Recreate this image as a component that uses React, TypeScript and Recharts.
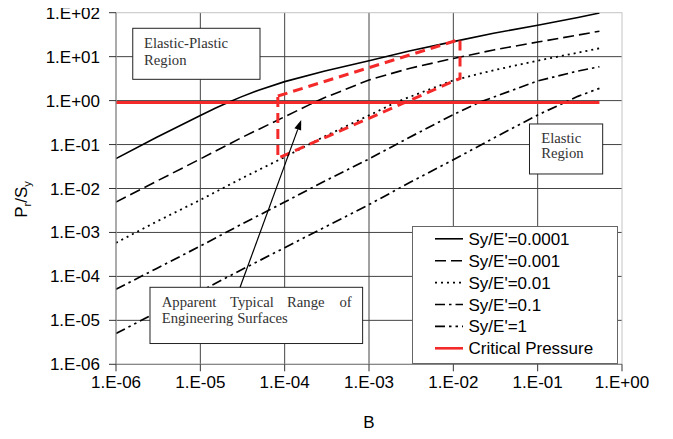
import React from 'react';
import { LineChart, Line, XAxis, YAxis, CartesianGrid, ReferenceArea, ReferenceLine, Legend } from 'recharts';

// ---------------- data ----------------
const X_TICKS = [1e-6, 1e-5, 1e-4, 1e-3, 1e-2, 1e-1, 1];
const Y_TICKS = [1e-6, 1e-5, 1e-4, 1e-3, 1e-2, 1e-1, 1, 10, 100];
const X_GRID = [1e-5, 1e-4, 1e-3, 1e-2, 1e-1];
const Y_GRID = [1e-5, 1e-4, 1e-3, 1e-2, 1e-1, 1, 10];

// Sy/E' = 0.0001
const B_A = [1e-6, 3e-6, 1e-5, 1.5e-5, 2e-5, 3e-5, 5e-5, 1e-4, 3e-4, 1e-3, 3e-3, 1e-2, 3e-2, 1e-1, 3e-1, 0.54];
const P_A = [0.048, 0.145, 0.46, 0.67, 0.86, 1.2, 1.75, 2.7, 4.7, 8.1, 13.5, 22, 34, 52, 78, 98];
// Sy/E' = 0.001
const B_B = [1e-6, 3e-6, 1e-5, 3e-5, 1e-4, 2e-4, 3e-4, 1e-3, 3e-3, 1e-2, 3e-2, 1e-1, 3e-1, 0.54];
const P_B = [0.0049, 0.0145, 0.047, 0.14, 0.43, 0.82, 1.17, 2.95, 5.4, 9.1, 14.2, 21.5, 31, 38];
// Sy/E' = 0.01
const B_C = [1e-6, 3e-6, 1e-5, 3e-5, 1e-4, 3e-4, 1e-3, 2e-3, 3e-3, 1e-2, 3e-2, 1e-1, 3e-1, 0.54];
const P_C = [5.8e-4, 1.75e-3, 5.5e-3, 0.0165, 0.052, 0.155, 0.46, 0.88, 1.2, 2.9, 4.9, 8.1, 12.3, 15.5];
// Sy/E' = 0.1
const B_D = [1e-6, 3e-6, 1e-5, 3e-5, 1e-4, 3e-4, 1e-3, 3e-3, 1e-2, 2e-2, 3e-2, 1e-1, 3e-1, 0.54];
const P_D = [5.1e-5, 1.5e-4, 4.9e-4, 1.5e-3, 4.9e-3, 0.0148, 0.047, 0.145, 0.48, 0.9, 1.2, 2.8, 4.7, 5.9];
// Sy/E' = 1
const B_E = [1e-6, 3e-6, 1e-5, 3e-5, 1e-4, 3e-4, 1e-3, 3e-3, 1e-2, 3e-2, 1e-1, 3e-1, 0.54];
const P_E = [5e-6, 1.5e-5, 4.6e-5, 1.38e-4, 4.5e-4, 1.32e-3, 4.3e-3, 0.0135, 0.045, 0.14, 0.47, 1.25, 1.9];

// Critical pressure
const CRIT_B = [1e-6, 0.54];
const CRIT_P = [0.9, 0.9];

// Apparent typical range (red dashed outline)
const RANGE_B = [8.3e-5, 0.012, 0.012, 8.3e-5, 8.3e-5];
const RANGE_P = [1.27, 24.8, 3.2, 0.049, 1.27];

const SERIES_LABELS = ["Sy/E'=0.0001", "Sy/E'=0.001", "Sy/E'=0.01", "Sy/E'=0.1", "Sy/E'=1", 'Critical Pressure'];

// ---------------- helpers ----------------
const zip = (bs: number[], ps: number[]) => bs.map((b, i) => ({ x: b, y: ps[i] }));

const fmtExp = (v: number) => {
  const e = Math.round(Math.log10(v));
  return '1.E' + (e < 0 ? '-' : '+') + String(Math.abs(e)).padStart(2, '0');
};

const SANS = "'Liberation Sans', Arial, sans-serif";
const SERIF = "'Liberation Serif', 'Times New Roman', serif";
const RED = '#f42a2a';
const FS = 17;

const SERIES = [
  { label: SERIES_LABELS[0], data: zip(B_A, P_A), dash: undefined as string | undefined, w: 1.6, color: '#000' },
  { label: SERIES_LABELS[1], data: zip(B_B, P_B), dash: '11 5', w: 1.6, color: '#000' },
  { label: SERIES_LABELS[2], data: zip(B_C, P_C), dash: '2 4', w: 1.8, color: '#000' },
  { label: SERIES_LABELS[3], data: zip(B_D, P_D), dash: '10 4 2.5 4', w: 1.7, color: '#000' },
  { label: SERIES_LABELS[4], data: zip(B_E, P_E), dash: '10 4 2.5 4 2.5 4', w: 1.7, color: '#000' },
];

type TextLine = { text: string; dx: number; dy: number; anchor?: 'start' | 'end' | 'middle' };

const makeBoxShape = (lines: TextLine[]) => (p: any) => (
  <g>
    <rect x={p.x} y={p.y} width={p.width} height={p.height} fill="#fff" stroke="#222" strokeWidth={1} />
    {lines.map((l, i) => (
      <text key={i} x={p.x + l.dx} y={p.y + l.dy} textAnchor={l.anchor ?? 'start'}
        fontFamily={SERIF} fontSize={14.7} fill="#333">{l.text}</text>
    ))}
  </g>
);

const EP_SHAPE = makeBoxShape([
  { text: 'Elastic-Plastic', dx: 11.3, dy: 19.8 },
  { text: 'Region', dx: 11.3, dy: 36.6 },
]);
const EL_SHAPE = makeBoxShape([
  { text: 'Elastic', dx: 11.7, dy: 18.7 },
  { text: 'Region', dx: 11.7, dy: 34.4 },
]);
const AP_SHAPE = makeBoxShape([
  { text: 'Apparent', dx: 11.7, dy: 19.4 },
  { text: 'Typical', dx: 80, dy: 19.4 },
  { text: 'Range', dx: 137, dy: 19.4 },
  { text: 'of', dx: 201.7, dy: 19.4, anchor: 'end' },
  { text: 'Engineering Surfaces', dx: 11.7, dy: 35.6 },
]);

const BorderShape = (p: any) => (
  <rect x={p.x} y={p.y} width={p.width} height={p.height} fill="none" stroke="#c4c4c4" strokeWidth={1} />
);

const ArrowShape = (p: any) => {
  const { x1, y1, x2, y2 } = p;
  if ([x1, y1, x2, y2].some((v) => typeof v !== 'number' || isNaN(v))) return <g />;
  const ang = Math.atan2(y2 - y1, x2 - x1);
  const c = Math.cos(ang), s = Math.sin(ang);
  const L = 10, W = 3.6;
  const bx = x2 - L * c, by = y2 - L * s;
  const pts = `${x2},${y2} ${bx - W * s},${by + W * c} ${bx + W * s},${by - W * c}`;
  return (
    <g>
      <line x1={x1} y1={y1} x2={bx} y2={by} stroke="#000" strokeWidth={1.2} />
      <polygon points={pts} fill="#000" />
    </g>
  );
};

const YLabel = (props: any) => {
  const vb = props.viewBox || { x: 0, y: 12.7, width: 116, height: 351.6 };
  const cx = vb.x + 26.7;
  const cy = vb.y + vb.height / 2 + 11;
  return (
    <text x={cx} y={cy} transform={`rotate(-90, ${cx}, ${cy})`} textAnchor="middle"
      fontFamily={SANS} fontSize={FS} fill="#000">
      <tspan>P</tspan>
      <tspan fontSize={11} dy={4}>r</tspan>
      <tspan dy={-4}>/S</tspan>
      <tspan fontSize={11} dy={4}>y</tspan>
    </text>
  );
};

const XLabel = (props: any) => {
  const vb = props.viewBox || { x: 116, y: 364.3, width: 506, height: 74.7 };
  return (
    <text x={vb.x + vb.width / 2} y={vb.y + 63.5} textAnchor="middle" fontFamily={SANS} fontSize={FS} fill="#000">B</text>
  );
};

const LEGEND_ITEMS = [
  ...SERIES.map((s) => ({ label: s.label, dash: s.dash, w: s.w, color: s.color })),
  { label: SERIES_LABELS[5], dash: undefined as string | undefined, w: 2.6, color: RED },
];

const LegendContent = () => (
  <div style={{ width: 205.5, height: 138, border: '1px solid #666', background: '#fff', boxSizing: 'border-box' }}>
    <svg width={203.5} height={136} style={{ display: 'block' }}>
      {LEGEND_ITEMS.map((it, i) => {
        const cy = 11.8 + i * 21.9;
        return (
          <g key={i}>
            <line x1={22} x2={50} y1={cy} y2={cy} stroke={it.color} strokeWidth={it.w} strokeDasharray={it.dash} />
            <text x={55.5} y={cy + 6} fontFamily={SANS} fontSize={FS} fill="#000">{it.label}</text>
          </g>
        );
      })}
    </svg>
  </div>
);

export default function App() {
  return (
    <div style={{ fontFamily: SANS, width: 673, height: 439, margin: -8, overflow: 'hidden' }}>
      <LineChart width={673} height={439} margin={{ top: 12.7, right: 51, bottom: 0, left: 0 }}>
        <CartesianGrid stroke="#444" strokeWidth={1}
          horizontalValues={Y_GRID} verticalValues={X_GRID} />
        <XAxis type="number" dataKey="x" scale="log" domain={[1e-6, 1]} allowDataOverflow
          ticks={X_TICKS} interval={0} tickFormatter={fmtExp} height={74.7}
          tickSize={7} tickMargin={5}
          axisLine={{ stroke: '#888', strokeWidth: 1.2 }} tickLine={{ stroke: '#333' }}
          tick={{ fontSize: FS, fill: '#000', fontFamily: SANS }}
          label={XLabel} />
        <YAxis type="number" dataKey="y" scale="log" domain={[1e-6, 100]} allowDataOverflow
          ticks={Y_TICKS} interval={0} tickFormatter={fmtExp} width={116}
          tickSize={7} tickMargin={9}
          axisLine={{ stroke: '#888', strokeWidth: 1.2 }} tickLine={{ stroke: '#333' }}
          tick={{ fontSize: FS, fill: '#000', fontFamily: SANS }}
          label={YLabel} />
        <ReferenceArea x1={1e-6} x2={1} y1={1e-6} y2={100} shape={BorderShape} ifOverflow="visible" />
        {SERIES.map((s, i) => (
          <Line key={i} data={s.data} dataKey="y" type="linear" stroke={s.color} strokeWidth={s.w}
            strokeDasharray={s.dash} dot={false} activeDot={false} isAnimationActive={false} legendType="none" />
        ))}
        <Line data={zip(CRIT_B, CRIT_P)} dataKey="y" type="linear" stroke={RED} strokeWidth={3}
          dot={false} activeDot={false} isAnimationActive={false} legendType="none" />
        <Line data={zip(RANGE_B, RANGE_P)} dataKey="y" type="linear" stroke={RED} strokeWidth={3}
          strokeDasharray="10 6" dot={false} activeDot={false} isAnimationActive={false} legendType="none" />
        <ReferenceArea x1={1.58e-6} x2={5.1e-5} y1={3.05} y2={44.2} shape={EP_SHAPE} zIndex={450} />
        <ReferenceArea x1={0.08} x2={0.59} y1={0.0214} y2={0.294} shape={EL_SHAPE} zIndex={450} />
        <ReferenceArea x1={2.53e-6} x2={8.4e-4} y1={2.97e-6} y2={5.65e-5} shape={AP_SHAPE} zIndex={450} />
        <ReferenceLine segment={[{ x: 2.96e-5, y: 5.65e-5 }, { x: 1.57e-4, y: 0.362 }]} shape={ArrowShape} zIndex={460} />
        <Legend layout="vertical" align="center" verticalAlign="middle" content={LegendContent}
          wrapperStyle={{ left: 412, top: 225.7, width: 205.5, height: 138 }} />
      </LineChart>
    </div>
  );
}
